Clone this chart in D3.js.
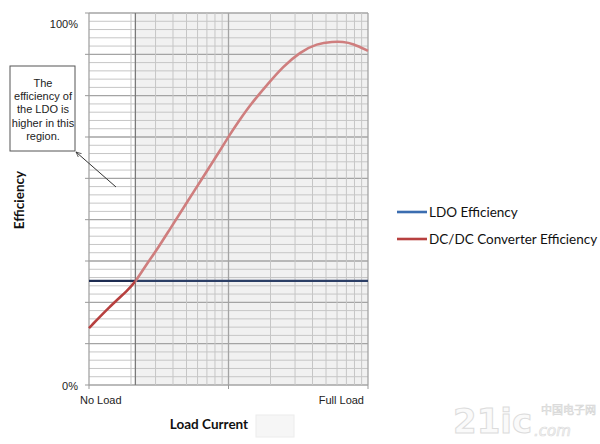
<!DOCTYPE html>
<html>
<head>
<meta charset="utf-8">
<script src="https://cdn.jsdelivr.net/npm/d3@7"></script>
<style>
  body { margin: 0; background: #fff; }
  svg { display: block; }
  .lbl { font-family: "Liberation Sans", Arial, sans-serif; font-size: 11px; fill: #222; }
  .title { font-family: Lato, "Open Sans", sans-serif; font-size: 13.5px; font-weight: bold; fill: #111; }
  .legend { font-family: Lato, "Open Sans", sans-serif; font-size: 13.5px; fill: #111; }
</style>
</head>
<body>
<div id="chart"></div>
<script>
// Load current (relative, log scale) vs DC/DC converter efficiency (%)
const loadValues = [1, 1.4, 1.9, 2.15, 2.6, 3.1, 3.8, 5, 6.6, 8.7, 10.2, 12, 14.3, 19, 24.6, 32.5, 43, 56, 66, 78, 100];
const dcdcEfficiency = [15.3, 21, 25.5, 27.7, 32.6, 36.6, 41.9, 48.9, 56, 63, 67.3, 71.2, 75.3, 80.8, 85.6, 89.5, 91.8, 92.3, 92.3, 91.8, 89.8];
const ldoEfficiency = 28;
const crossLoad = 2.15;
const yTickLabels = ['0%', '100%'];
const xTickLabels = ['No Load', 'Full Load'];
const seriesNames = ['LDO Efficiency', 'DC/DC Converter Efficiency'];
const noteLines = ['The', 'efficiency of', 'the LDO is', 'higher in this', 'region.'];

const W = 600, H = 444;
const pLeft = 89, pRight = 368, pTop = 13, pBottom = 385;

const svg = d3.select('#chart').append('svg').attr('width', W).attr('height', H);

const x = d3.scaleLog().domain([1, 100]).range([pLeft, pRight]);
const y = d3.scaleLinear().domain([0, 100]).range([pBottom, pTop]);

// shaded region where DC/DC wins
svg.append('rect')
  .attr('x', x(crossLoad)).attr('y', pTop)
  .attr('width', pRight - x(crossLoad)).attr('height', pBottom - pTop)
  .attr('fill', '#f1f1f1');

// horizontal grid: 9 major divisions, 5 minor each
const hLines = d3.range(0, 46).map(i => i * 100 / 45);
svg.append('g').selectAll('line').data(hLines).join('line')
  .attr('x1', pLeft).attr('x2', pRight)
  .attr('y1', d => y(d)).attr('y2', d => y(d))
  .attr('stroke', (d, i) => i % 5 === 0 ? '#a4a4a4' : '#c6c6c6')
  .attr('stroke-width', (d, i) => i % 5 === 0 ? 1.3 : 1);

// vertical log grid
const vLines = x.ticks();
svg.append('g').selectAll('line').data(vLines).join('line')
  .attr('x1', d => x(d)).attr('x2', d => x(d))
  .attr('y1', pTop).attr('y2', pBottom)
  .attr('stroke', d => (d === 1 || d === 10 || d === 100) ? '#a4a4a4' : '#c6c6c6')
  .attr('stroke-width', d => (d === 1 || d === 10 || d === 100) ? 1.3 : 1);

// region boundary line
svg.append('line')
  .attr('x1', x(crossLoad)).attr('x2', x(crossLoad))
  .attr('y1', pTop).attr('y2', pBottom)
  .attr('stroke', '#7a7a7a').attr('stroke-width', 1.3);

// ticks outside the plot
svg.append('g').selectAll('line').data(hLines.filter((d, i) => i % 5 === 0)).join('line')
  .attr('x1', pLeft - 4).attr('x2', pLeft)
  .attr('y1', d => y(d)).attr('y2', d => y(d))
  .attr('stroke', '#999');
svg.append('g').selectAll('line').data([1, 10, 100]).join('line')
  .attr('x1', d => x(d)).attr('x2', d => x(d))
  .attr('y1', pBottom).attr('y2', pBottom + 4)
  .attr('stroke', '#999');

// clip regions for the two shades of each line
const defs = svg.append('defs');
defs.append('clipPath').attr('id', 'clipL').append('rect')
  .attr('x', 0).attr('y', 0).attr('width', x(crossLoad)).attr('height', H);
defs.append('clipPath').attr('id', 'clipR').append('rect')
  .attr('x', x(crossLoad)).attr('y', 0).attr('width', W).attr('height', H);
defs.append('marker').attr('id', 'arrow')
  .attr('viewBox', '0 0 10 10').attr('refX', 9).attr('refY', 5)
  .attr('markerWidth', 6).attr('markerHeight', 6).attr('orient', 'auto-start-reverse')
  .append('path').attr('d', 'M0,1 L9,5 L0,9').attr('fill', 'none').attr('stroke', '#333').attr('stroke-width', 1.2);

const pts = loadValues.map((v, i) => [v, dcdcEfficiency[i]]);
const line = d3.line().x(d => x(d[0])).y(d => y(d[1])).curve(d3.curveBasis);

[['clipL', '#1d2c52', '#b7403f'], ['clipR', '#2c3f66', '#cf7e7e']].forEach(([clip, ldoC, dcC]) => {
  const g = svg.append('g').attr('clip-path', `url(#${clip})`);
  g.append('line')
    .attr('x1', pLeft).attr('x2', pRight)
    .attr('y1', y(ldoEfficiency)).attr('y2', y(ldoEfficiency))
    .attr('stroke', ldoC).attr('stroke-width', 2.2);
  g.append('path').datum(pts).attr('d', line)
    .attr('fill', 'none').attr('stroke', dcC).attr('stroke-width', 2.6);
});

// axis labels
svg.append('text').attr('class', 'lbl').attr('x', 78).attr('y', 28).attr('text-anchor', 'end').text(yTickLabels[1]);
svg.append('text').attr('class', 'lbl').attr('x', 78).attr('y', 390).attr('text-anchor', 'end').text(yTickLabels[0]);
svg.append('text').attr('class', 'lbl').attr('x', 80).attr('y', 404).text(xTickLabels[0]);
svg.append('text').attr('class', 'lbl').attr('x', 364).attr('y', 404).attr('text-anchor', 'end').text(xTickLabels[1]);

svg.append('text').attr('class', 'title')
  .attr('transform', 'translate(24,200) rotate(-90)')
  .attr('text-anchor', 'middle').text('Efficiency');
svg.append('text').attr('class', 'title')
  .attr('x', 209).attr('y', 429).attr('text-anchor', 'middle').text('Load Current');

// faint box beside the axis title
svg.append('rect').attr('x', 256).attr('y', 415).attr('width', 38).attr('height', 22)
  .attr('fill', '#f6f6f6').attr('stroke', '#ececec');

// annotation box
svg.append('rect').attr('x', 10).attr('y', 66).attr('width', 65).attr('height', 85)
  .attr('fill', '#fff').attr('stroke', '#555').attr('stroke-width', 1);
svg.append('g').selectAll('text').data(noteLines).join('text')
  .attr('class', 'lbl')
  .attr('x', 43).attr('y', (d, i) => 87 + i * 13.2)
  .attr('text-anchor', 'middle').text(d => d);
svg.append('line').attr('x1', 116).attr('y1', 187).attr('x2', 76).attr('y2', 152)
  .attr('stroke', '#333').attr('stroke-width', 1).attr('marker-end', 'url(#arrow)');

// legend
const legY = [212, 239];
const legC = ['#3b6db0', '#b7403f'];
seriesNames.forEach((name, i) => {
  svg.append('line').attr('x1', 397).attr('x2', 427).attr('y1', legY[i]).attr('y2', legY[i])
    .attr('stroke', legC[i]).attr('stroke-width', 2.6);
  svg.append('text').attr('class', 'legend').attr('x', 429).attr('y', legY[i] + 5).text(name);
});

// watermark
svg.append('text').attr('x', 453).attr('y', 433)
  .attr('font-family', '"DejaVu Sans", sans-serif').attr('font-size', 34).attr('font-weight', 'bold')
  .attr('fill', '#fafafa').attr('stroke', '#dcdcdc').attr('stroke-width', 1)
  .text('21ic');
svg.append('text').attr('x', 541).attr('y', 414)
  .attr('font-family', '"Noto Sans CJK SC", sans-serif').attr('font-size', 11)
  .attr('fill', '#fafafa').attr('stroke', '#d6d6d6').attr('stroke-width', 0.6)
  .text('中国电子网');
svg.append('text').attr('x', 534).attr('y', 436)
  .attr('font-family', '"DejaVu Sans", sans-serif').attr('font-size', 15).attr('font-style', 'italic')
  .attr('fill', '#fafafa').attr('stroke', '#dcdcdc').attr('stroke-width', 0.7)
  .text('.com');
</script>
</body>
</html>
